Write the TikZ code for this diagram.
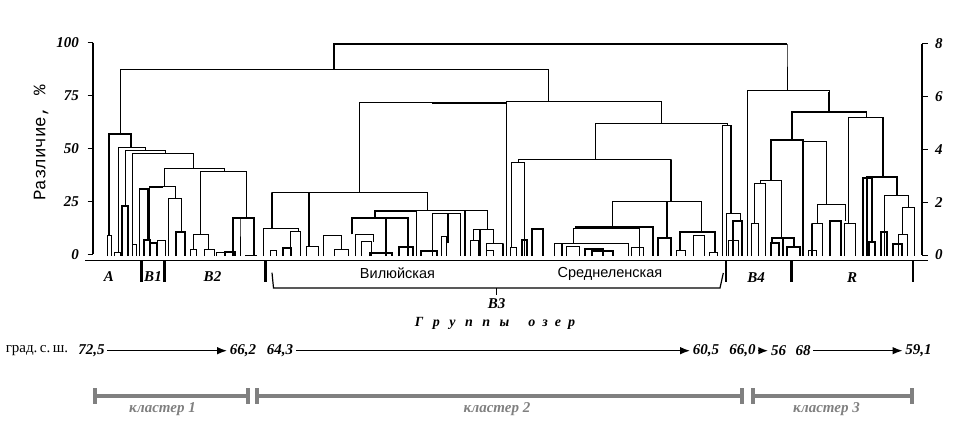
\documentclass[tikz,border=0pt]{standalone}
\usepackage{fontspec}
\setmainfont{Liberation Serif}
\setsansfont{Liberation Sans}
\setmonofont{Liberation Mono}
\usetikzlibrary{positioning, arrows.meta}

\tikzset{
	thinlink/.style={line width=0.9pt},
	thicklink/.style={line width=2.2pt},
	axisline/.style={line width=1.8pt},
	numlabel/.style={font=\fontsize{15}{15}\selectfont\bfseries\itshape, inner sep=1pt},
	lakelabel/.style={font=\sffamily\fontsize{14.5}{14.5}\selectfont},
	latlabel/.style={font=\fontsize{15}{15}\selectfont\bfseries\itshape, inner sep=2.5pt},
	latarrow/.style={line width=1.5pt, -{Latex[length=10pt, width=7.5pt]}},
	clusterbar/.style={line width=4pt, draw=gray},
	clusterlabel/.style={font=\fontsize{15}{15}\selectfont\bfseries\itshape, text=gray},
	groupsep/.style={line width=2.6pt}
}

\begin{document}
\begin{tikzpicture}[x=1pt, y=-1pt]
		\useasboundingbox (0,0) rectangle (964,434);

		\draw[axisline] (93.3,42.7) -- (93.3,254.3);
		\foreach \v in {0,25,50,75,100} {
			\draw[thinlink] (87.5,{254.3-2.116*\v}) -- (93.3,{254.3-2.116*\v});
			\node (leftTick\v)[numlabel, anchor=east] at (80,{254.3-2.116*\v}) {\v};
		}
		\draw[axisline] (922.3,43.8) -- (922.3,255);
		\foreach \v in {0,2,4,6,8} {
			\draw[thinlink] (922.3,{255-26.4*\v}) -- (927.5,{255-26.4*\v});
			\node (rightTick\v)[numlabel, anchor=west] at (934,{255-26.4*\v}) {\v};
		}
		\node (diffLabel)[rotate=90, font=\ttfamily\fontsize{17.5}{17.5}\selectfont] at (41,143) {Различие,~\%};

		\foreach \a/\b/\t/\l/\r in {787/787/44/90/90, 120/548/69/134/101.5, 107.3/111/235.7/256/256, 118.3/145/147.3/252.7/150, 114.3/120.3/252.7/256/256, 125.7/165.7/150/206/153.3, 132.3/193.7/153.3/244.3/168.3, 132.3/136.7/244.3/256/256, 164.3/224.3/168.3/186.7/171.7, 149/175/186.7/256/198.3, 139.3/139.3/189.3/256/256, 168.3/181.7/198.3/256/231.7, 157.7/165.7/240.7/256/256, 200.3/246.7/171.7/234.3/217.7, 193.3/208.3/234.3/249.3/249.3, 190/196.7/249.3/256/256, 204.3/214.3/249.3/256/256, 216.7/225/252.7/256/256, 240/240/217.7/256/256, 245.7/256.7/255/256/256, 359.3/506.7/102.7/192.3/256, 506.7/661.7/101.7/256/123.3, 272.3/427.3/192.3/228.3/210.7, 263.3/298.3/228.3/256/231, 290/300/231/256/256, 270/276.7/250/256/256, 306.7/318.3/246.7/256/256, 323.3/341.7/235/256/249, 334/348.3/249/256/256, 355/373.3/234.3/256/241.7, 361.7/371.7/241.7/256/256, 416.7/416.7/210.7/256/256, 432.3/460/213.3/256/256, 441.7/446.7/236.7/256/256, 375/487.3/210.7/217.7/229.3, 473.3/493.3/229.3/240.7/243.3, 470.7/478.3/240.7/256/256, 486.7/502.7/243.3/256/256, 486.7/493.3/250/256/256, 595/727/123.3/159.3/125, 722/731/125/256/126, 518.3/670.7/159.3/162.3/165, 511.7/524/162.3/247.3/256, 510/516.7/247.3/256/256, 612.7/701/201/226.7/231.7, 573.3/639.3/228.3/243.3/256, 554/628.3/243.3/256/256, 566.7/579.3/246.7/256/256, 631.7/643.3/247.3/256/256, 676.7/685/250/256/256, 709.3/717.3/252.3/256/256, 693.3/704.3/235.7/256/256, 726.7/740/213.3/256/220.7, 728/738/240/256/256, 747.3/829/90/256/92, 866.7/866.7/112.3/117.3/117.3, 803.3/826.7/141.7/143/204.3, 760/781.7/180/183.3/238.3, 754.3/765/183.3/223.3/256, 751.7/758.3/223.3/256/256, 817.7/845/204.3/223.3/220.7, 812.3/822.3/223.3/256/256, 808.3/816.7/250/256/256, 848.3/883.3/117.3/223.3/120, 844.3/855.7/223.3/256/256, 884.3/908.3/195/256/207.3, 902.7/914.3/207.3/234/256, 898.3/907.7/234/256/256}
			\draw[thinlink] (\a,\l) |- (\b,\t) -- (\b,\r);

		\foreach \a/\b/\t/\l/\r in {334/787/44/69/44, 109/131/134/236/147, 122.3/127.7/206/256/256, 139.3/148.3/189.3/189.3/240.7, 149/163/186.7/186.7/186.7, 144.3/150/240/256/256, 150/156.7/243.3/256/256, 175.7/185/231.7/256/256, 233.3/254.3/217.7/256/256, 225/235/251.7/256/256, 272.3/272.3/192.3/228.3/228.3, 309.3/309.3/192.3/246.7/246.7, 283.3/291/247.7/256/256, 351.7/408.3/217.7/234.3/256, 386/386/217.7/256/256, 370/391.7/253.3/256/256, 399.3/413.3/247.3/256/256, 375/416.7/210.7/217.7/210.7, 447.7/447.7/213.3/243.3/243.3, 420.7/436.7/250.7/256/256, 464.7/464.7/210.7/256/256, 480/480/229.3/256/256, 502.7/502.7/243.3/256/256, 431.7/506.7/102.7/102.7/102.7, 731/731/126/213.3/213.3, 670.7/670.7/159.3/201/201, 666.7/666.7/201/238.3/238.3, 658.3/670.7/238.3/256/256, 575/652.7/226.7/226.7/256, 531.7/542.7/229/256/256, 561.7/561.7/243.3/256/256, 585/603.3/249.3/256/256, 591.7/613.3/251/256/256, 522.3/527.3/240/256/256, 680/715/232.3/250/252.3, 733.3/741.7/220.7/256/256, 829/829/92/112.3/112.3, 792.3/866.7/112.3/140/112.3, 770.7/803.3/140/180/256, 772.3/794.3/238.3/243.3/246.7, 770.7/779/243.3/256/256, 787/800/246.7/256/256, 783.3/783.3/238.3/256/256, 812.3/812.3/223.3/256/256, 830.3/840.7/220.7/256/256, 883.3/883.3/117.3/176.7/176.7, 866.7/896.7/176.7/256/195, 863.3/871.7/177.7/256/241.7, 869/875/241.7/256/256, 880.7/886.7/231.7/256/256, 893.3/901.7/244.3/256/256}
			\draw[thicklink] (\a,\l) |- (\b,\t) -- (\b,\r);

		\draw[thinlink] (85,260.7) -- (928,260.7);
		\foreach \x in {141.3,164.5,265.5,725.8,791.3,913}
			\draw[groupsep] (\x,260.7) -- (\x,281.5);

		\node (groupA)[numlabel] at (109,277) {A};
		\node (groupB1)[numlabel] at (153,277) {B1};
		\node (groupB2)[numlabel] at (212.5,277) {B2};
		\node (groupB4)[numlabel] at (756,278) {B4};
		\node (groupR)[numlabel] at (852,278) {R};
		\node (vilyuy)[lakelabel] at (397.5,273.5) {Вилюйская};
		\node (srednelena)[lakelabel] at (610,273.5) {Среднеленская};

		\draw[line width=1.2pt] (272,272.7) -- (273.5,288) -- (720,288) -- (723.3,273);
		\coordinate (braceTip) at (496.7,295);
		\draw[line width=1.2pt] (496.7,288) -- (braceTip);
		\node (groupB3)[numlabel, below=2pt of braceTip] {B3};
		\node (lakeGroups)[font=\fontsize{14}{14}\selectfont\bfseries\itshape] at (495,323.5) {Г\hspace{9.5pt}р\hspace{9.5pt}у\hspace{9.5pt}п\hspace{9.5pt}п\hspace{9.5pt}ы\hspace{19pt}о\hspace{7pt}з\hspace{7pt}е\hspace{7pt}р};

		\node (latUnit)[font=\fontsize{15}{15}\selectfont] at (37,350.7) {град.\,с.\,ш.};
		\node (lat725)[latlabel] at (91.5,350.7) {72,5};
		\node (lat662)[latlabel] at (243,350.7) {66,2};
		\node (lat643)[latlabel] at (280,350.7) {64,3};
		\node (lat605)[latlabel] at (706,350.7) {60,5};
		\node (lat660)[latlabel] at (742.5,350.7) {66,0};
		\node (lat56)[latlabel] at (778.5,350.7) {56};
		\node (lat68)[latlabel] at (803,350.7) {68};
		\node (lat591)[latlabel] at (918.5,350.7) {59,1};
		\draw[latarrow] (lat725) -- (lat662);
		\draw[latarrow] (lat643) -- (lat605);
		\draw[latarrow] (lat660) -- (lat56);
		\draw[latarrow] (lat68) -- (lat591);

		\draw[clusterbar] (95,388) -- (95,404) (95,396) -- (248.3,396) (248.3,388) -- (248.3,404);
		\draw[clusterbar] (256.7,388) -- (256.7,404) (256.7,396) -- (741.7,396) (741.7,388) -- (741.7,404);
		\draw[clusterbar] (753.3,388) -- (753.3,404) (753.3,396) -- (911.7,396) (911.7,388) -- (911.7,404);
		\node (cluster1)[clusterlabel] at (162.5,409.5) {кластер 1};
		\node (cluster2)[clusterlabel] at (497,409.5) {кластер 2};
		\node (cluster3)[clusterlabel] at (826.5,409.5) {кластер 3};
	\end{tikzpicture}
\end{document}
